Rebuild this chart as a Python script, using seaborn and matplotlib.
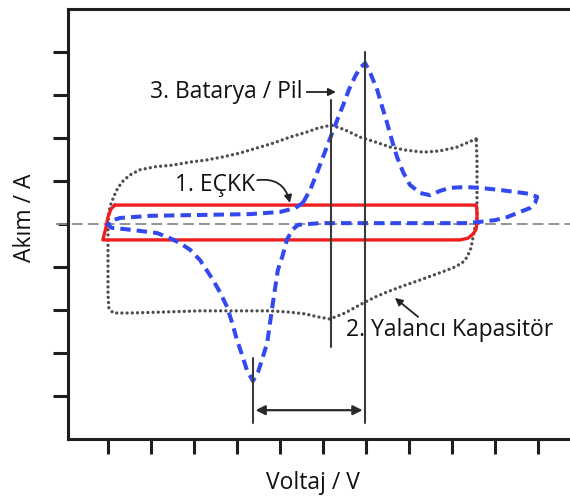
import numpy as np
import pandas as pd
import matplotlib
matplotlib.use("Agg")
import matplotlib.pyplot as plt
import seaborn as sns

# --- Cyclic voltammograms (voltage in tick units, current in tick units) ---
# 1. Electrochemical double-layer capacitor (EÇKK): near-rectangular loop
edlc_v = [1.16, 9.56, 9.58, 9.58, 9.56, 9.49, 9.37, 9.19, 0.88, 0.95, 1.00, 1.07, 1.16]
edlc_i = [0.44, 0.44, 0.28, 0.05, -0.12, -0.23, -0.33, -0.37, -0.37, -0.09, 0.16, 0.35, 0.44]

# 2. Pseudocapacitor: broad loop with gentle redox humps
pseudo_v = [9.56, 9.12, 8.72, 8.33, 7.91, 7.56, 7.21, 6.86, 6.51, 6.19, 5.88, 5.63,
            5.23, 4.84, 4.47, 4.07, 3.67, 3.30, 2.91, 2.51, 2.09, 1.74, 1.51, 1.35,
            1.23, 1.14, 1.07, 1.02, 1.00, 1.00, 1.00, 1.00, 1.02, 1.12, 1.51, 2.21,
            3.14, 4.07, 4.77, 5.23, 5.58, 5.88, 6.16, 6.51, 6.93, 7.21, 7.49, 7.86,
            8.26, 8.65, 9.02, 9.23, 9.35, 9.44, 9.49, 9.53, 9.58, 9.58, 9.58, 9.58, 9.56]
pseudo_i = [1.98, 1.79, 1.70, 1.67, 1.72, 1.79, 1.91, 2.02, 2.19, 2.30, 2.23, 2.14,
            2.02, 1.88, 1.77, 1.65, 1.56, 1.49, 1.44, 1.37, 1.33, 1.26, 1.14, 1.00,
            0.84, 0.65, 0.47, 0.28, -0.02, -0.49, -1.07, -1.65, -1.95, -2.07, -2.07, -2.05,
            -2.02, -2.02, -2.02, -2.05, -2.09, -2.16, -2.21, -2.07, -1.84, -1.70, -1.58, -1.44,
            -1.30, -1.16, -1.02, -0.91, -0.77, -0.56, -0.30, -0.09, 0.09, 0.56, 1.02, 1.49, 1.98]

# 3. Battery: sharp, separated oxidation / reduction peaks
battery_v = [5.53, 5.70, 5.86, 6.00, 6.16, 6.33, 6.47, 6.60, 6.74, 6.86, 6.98, 7.09,
             7.26, 7.37, 7.49, 7.60, 7.72, 7.86, 8.02, 8.26, 8.49, 8.72, 8.95, 9.30,
             9.65, 10.12, 10.51, 10.81, 10.98, 10.93, 10.81, 10.58, 10.28, 10.00, 9.65, 9.30,
             8.72, 7.79, 6.86, 5.93, 5.42, 5.28, 5.16, 5.05, 4.95, 4.88, 4.81, 4.70,
             4.58, 4.49, 4.37, 4.23, 4.12, 4.00, 3.88, 3.77, 3.60, 3.44, 3.26, 3.14,
             2.91, 2.67, 2.44, 2.14, 1.74, 1.40, 1.09, 1.00, 1.05, 1.28, 1.98, 3.14,
             4.30, 5.00, 5.35, 5.53]
battery_i = [0.49, 0.79, 1.19, 1.56, 1.98, 2.42, 2.77, 3.12, 3.42, 3.63, 3.74, 3.53,
             3.12, 2.74, 2.35, 1.95, 1.56, 1.21, 0.91, 0.72, 0.67, 0.77, 0.84, 0.86,
             0.84, 0.79, 0.74, 0.70, 0.63, 0.49, 0.37, 0.28, 0.16, 0.09, 0.05, 0.02,
             0.02, 0.02, 0.02, 0.02, -0.02, -0.14, -0.37, -0.77, -1.07, -1.53, -2.00, -2.77,
             -3.16, -3.44, -3.65, -3.40, -3.05, -2.70, -2.28, -1.93, -1.58, -1.30, -1.02, -0.84,
             -0.60, -0.44, -0.33, -0.21, -0.16, -0.12, -0.09, -0.02, 0.07, 0.14, 0.19, 0.21,
             0.23, 0.28, 0.37, 0.49]

x_ticks = list(range(1, 12))
y_ticks = [-4, -3, -2, -1, 0, 1, 2, 3, 4]

labels = {
    "edlc": "1. EÇKK",
    "pseudo": "2. Yalancı Kapasitör",
    "battery": "3. Batarya / Pil",
    "x": "Voltaj / V",
    "y": "Akım / A",
}

# --- style ---
sns.set_theme(style="white")
plt.rcParams["font.family"] = ["Open Sans", "DejaVu Sans"]
TXT = "#111111"
FS = 16.5

fig = plt.figure(figsize=(5.70, 4.97), dpi=100)
# axes run past the right edge of the canvas (open-ended voltage axis)
ax = fig.add_axes([68 / 570, 58 / 497, 532 / 570, 430 / 497])
ax.set_xlim(0.07, 12.44)
ax.set_ylim(-5.0, 5.0)

# zero-current reference
ax.plot([-0.2, 12.44], [0, 0], color="#8a8a8a", lw=1.3,
        linestyle=(0, (6, 2.8)), clip_on=False, zorder=1)

sns.lineplot(x=pseudo_v, y=pseudo_i, sort=False, estimator=None, ax=ax,
             color="#4e4e4e", lw=2.4, linestyle=(0, (0.01, 1.55)),
             dash_capstyle="round", zorder=2)
sns.lineplot(x=edlc_v, y=edlc_i, sort=False, estimator=None, ax=ax,
             color="#f01e1e", lw=2.4, zorder=3)
sns.lineplot(x=battery_v, y=battery_i, sort=False, estimator=None, ax=ax,
             color="#3348ee", lw=2.9, linestyle=(0, (2.6, 1.5)), zorder=4)

# peak-position markers
v_ox = battery_v[int(np.argmax(battery_i))]
v_red = battery_v[int(np.argmin(battery_i))]
v_ps = pseudo_v[int(np.argmax(pseudo_i))]
line_kw = dict(color="#3a3a3a", lw=1.5, zorder=5)
ax.plot([v_ox, v_ox], [4.0, -4.63], **line_kw)
ax.plot([v_ps, v_ps], [2.88, -2.86], **line_kw)
ax.plot([v_red, v_red], [-3.12, -4.63], **line_kw)
ax.annotate("", xy=(v_red + 0.06, -4.33), xytext=(v_ox - 0.06, -4.33),
            arrowprops=dict(arrowstyle="<|-|>", color="#2a2a2a", lw=1.6,
                            mutation_scale=14, shrinkA=0, shrinkB=0), zorder=6)

# curve labels
ax.text(1.98, 3.07, labels["battery"], ha="left", va="center",
        fontsize=FS, color=TXT, zorder=7)
ax.annotate("", xy=(6.3, 3.07), xytext=(5.62, 3.07),
            arrowprops=dict(arrowstyle="-|>", color="#222", lw=1.3,
                            mutation_scale=11, shrinkA=0, shrinkB=0))
ax.text(2.56, 0.91, labels["edlc"], ha="left", va="center",
        fontsize=FS, color=TXT, zorder=7)
ax.annotate("", xy=(5.23, 0.49), xytext=(4.47, 1.02),
            arrowprops=dict(arrowstyle="-|>", color="#222", lw=1.3,
                            mutation_scale=11, shrinkA=0, shrinkB=0,
                            connectionstyle="arc3,rad=-0.45"))
ax.text(6.53, -2.47, labels["pseudo"], ha="left", va="center",
        fontsize=FS, color=TXT, zorder=7)
ax.annotate("", xy=(7.67, -1.72), xytext=(8.21, -2.16),
            arrowprops=dict(arrowstyle="-|>", color="#222", lw=1.3,
                            mutation_scale=11, shrinkA=0, shrinkB=0))

# axes frame and ticks
for side in ("top", "left", "bottom"):
    ax.spines[side].set_visible(True)
    ax.spines[side].set_color("#1e1e1e")
    ax.spines[side].set_linewidth(2.2)
ax.spines["right"].set_visible(False)
ax.set_xticks(x_ticks)
ax.set_yticks(y_ticks)
ax.tick_params(axis="both", which="major", direction="out", length=11,
               width=2.2, color="#1e1e1e", labelleft=False, labelbottom=False,
               left=True, bottom=True)
ax.yaxis.get_major_ticks()[y_ticks.index(0)].tick1line.set_markersize(7)
ax.grid(False)

fig.text(313 / 570, 1 - 483 / 497, labels["x"], ha="center", va="center",
         fontsize=FS, color=TXT)
fig.text(25 / 570, 1 - 218 / 497, labels["y"], ha="center", va="center",
         rotation=90, fontsize=FS, color=TXT)

fig.savefig("out.png", dpi=100)
